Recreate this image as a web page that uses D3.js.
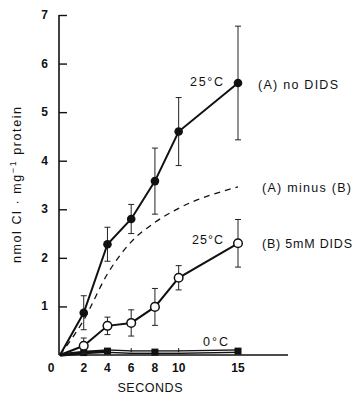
<!DOCTYPE html>
<html>
<head>
<meta charset="utf-8">
<script src="https://cdn.jsdelivr.net/npm/d3@7"></script>
<style>
  body { margin: 0; background: #fff; }
  svg { display: block; }
  text { font-family: "Liberation Sans", Arial, sans-serif; fill: #111; }
</style>
</head>
<body>
<svg id="chart" width="361" height="394"></svg>
<script>
// seconds
const times = [0, 2, 4, 6, 8, 10, 15]
// (A) no DIDS, 25°C
const noDids = [0, 0.87, 2.28, 2.8, 3.58, 4.6, 5.6]
const noDidsErr = [0, 0.35, 0.35, 0.3, 0.68, 0.7, 1.17]
// (B) 5mM DIDS, 25°C
const withDids = [0, 0.19, 0.6, 0.66, 0.99, 1.59, 2.3]
const withDidsErr = [0, 0.16, 0.18, 0.27, 0.38, 0.25, 0.49]
// (A) minus (B)
const diffCurve = [0, 0.72, 1.67, 2.33, 2.73, 3.02, 3.46]
// 0°C
const cold = [0, 0.05, 0.08, 0.06, 0.06, 0.06, 0.08]
const coldErr = [0, 0, 0, 0.05, 0, 0.05, 0]
const coldSquares = [2, 4, 8, 15]

const yTicks = [1, 2, 3, 4, 5, 6, 7]
const xTicks = [2, 4, 6, 8, 10, 15]

const svg = d3.select("#chart")
const x = d3.scaleLinear().domain([0, 15]).range([60, 238])
const y = d3.scaleLinear().domain([0, 7]).range([355, 15])

// axes
svg.append("line").attr("x1", 59).attr("x2", 59).attr("y1", y(7)).attr("y2", 355)
    .attr("stroke", "#111").attr("stroke-width", 1.6)
svg.append("line").attr("x1", 59).attr("x2", 288).attr("y1", 355).attr("y2", 355)
    .attr("stroke", "#111").attr("stroke-width", 1.4)

const yAxis = d3.axisRight(y).tickValues(yTicks).tickSize(8).tickFormat("")
const ya = svg.append("g").attr("transform", "translate(59,0)").call(yAxis)
ya.select(".domain").remove()
ya.selectAll(".tick line").attr("stroke", "#111").attr("stroke-width", 1.4)

svg.append("g").selectAll("text").data(yTicks).join("text")
    .attr("x", 48).attr("y", d => y(d) + 4)
    .attr("text-anchor", "end").attr("font-size", 12).attr("font-weight", "bold")
    .text(d => d)

svg.append("g").selectAll("text").data(xTicks).join("text")
    .attr("x", d => x(d)).attr("y", 372)
    .attr("text-anchor", "middle").attr("font-size", 12).attr("font-weight", "bold")
    .text(d => d)
svg.append("text").attr("x", 51).attr("y", 372).attr("text-anchor", "middle")
    .attr("font-size", 12).attr("font-weight", "bold").text("0")

svg.append("text").attr("x", 150).attr("y", 392).attr("text-anchor", "middle")
    .attr("font-size", 12.5).attr("textLength", 65).text("SECONDS")

const yl = svg.append("text").attr("transform", "translate(21,185) rotate(-90)")
    .attr("text-anchor", "middle").attr("font-size", 12.5).attr("textLength", 156)
yl.append("tspan").text("nmol Cl · mg")
yl.append("tspan").attr("dy", -5).attr("font-size", 9).text("−1")
yl.append("tspan").attr("dy", 5).text(" protein")

// dashed difference curve
const diffLine = d3.line().x((d, i) => x(times[i])).y(d => y(d)).curve(d3.curveMonotoneX)
svg.append("path").datum(diffCurve).attr("d", diffLine)
    .attr("fill", "none").attr("stroke", "#111").attr("stroke-width", 1.3)
    .attr("stroke-dasharray", "6,5")

const line = d3.line().x((d, i) => x(times[i])).y(d => y(d))

// 0°C double line
svg.append("path").datum(cold).attr("d", line)
    .attr("fill", "none").attr("stroke", "#111").attr("stroke-width", 3.6)
svg.append("path").datum(cold.slice(2)).attr("d", d3.line().x((d, i) => x(times[i + 2])).y(d => y(d)))
    .attr("fill", "none").attr("stroke", "#fff").attr("stroke-width", 1)
svg.append("g").selectAll("line").data(times.filter((t, i) => coldErr[i] > 0)).join("line")
    .attr("x1", d => x(d)).attr("x2", d => x(d))
    .attr("y1", d => y(cold[times.indexOf(d)]) - 4).attr("y2", d => y(cold[times.indexOf(d)]))
    .attr("stroke", "#111").attr("stroke-width", 1)
svg.append("g").selectAll("rect").data(coldSquares).join("rect")
    .attr("x", d => x(d) - 3.5).attr("y", d => y(cold[times.indexOf(d)]) - 3.5)
    .attr("width", 7).attr("height", 7).attr("fill", "#111")

function drawSeries(vals, errs, open) {
    const g = svg.append("g")
    const idx = d3.range(1, times.length)
    g.selectAll("line.err").data(idx).join("line").attr("class", "err")
        .attr("x1", i => x(times[i])).attr("x2", i => x(times[i]))
        .attr("y1", i => y(vals[i] + errs[i])).attr("y2", i => y(vals[i] - errs[i]))
        .attr("stroke", "#222").attr("stroke-width", 1)
    for (const s of [1, -1]) {
        g.selectAll("line.cap" + s).data(idx).join("line").attr("class", "cap" + s)
            .attr("x1", i => x(times[i]) - 3).attr("x2", i => x(times[i]) + 3)
            .attr("y1", i => y(vals[i] + s * errs[i])).attr("y2", i => y(vals[i] + s * errs[i]))
            .attr("stroke", "#222").attr("stroke-width", 1)
    }
    g.append("path").datum(vals).attr("d", line)
        .attr("fill", "none").attr("stroke", "#111").attr("stroke-width", 2)
    g.selectAll("circle").data(idx).join("circle")
        .attr("cx", i => x(times[i])).attr("cy", i => y(vals[i]))
        .attr("r", 4.3)
        .attr("fill", open ? "#fff" : "#111")
        .attr("stroke", "#111").attr("stroke-width", open ? 1.5 : 0)
}
drawSeries(noDids, noDidsErr, false)
drawSeries(withDids, withDidsErr, true)

// annotations
const labels = [
    { t: "25°C", x: 223, y: 86, anchor: "end", w: 33 },
    { t: "(A) no DIDS", x: 258, y: 89, anchor: "start", w: 80 },
    { t: "(A) minus (B)", x: 262, y: 192, anchor: "start", w: 89 },
    { t: "25°C", x: 223, y: 244, anchor: "end", w: 31 },
    { t: "(B) 5mM DIDS", x: 262, y: 248, anchor: "start", w: 90 },
    { t: "0°C", x: 228, y: 346, anchor: "end", w: 25 }
]
svg.append("g").selectAll("text").data(labels).join("text")
    .attr("x", d => d.x).attr("y", d => d.y).attr("text-anchor", d => d.anchor)
    .attr("font-size", 12.5).attr("textLength", d => d.w)
    .text(d => d.t)
</script>
</body>
</html>
